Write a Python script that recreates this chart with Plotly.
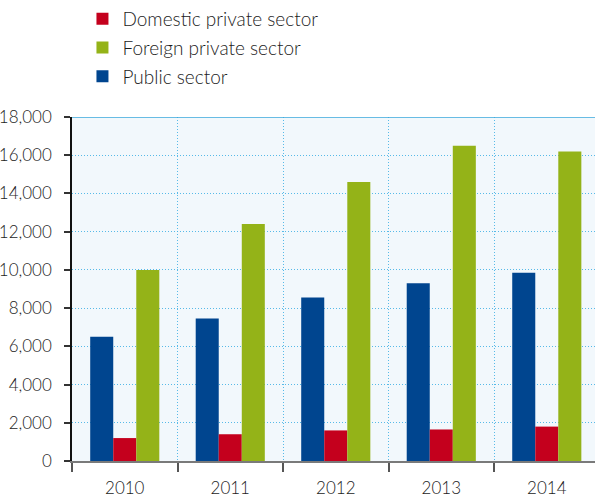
import plotly.graph_objects as go

years = ["2010", "2011", "2012", "2013", "2014"]
public_sector = [6500, 7450, 8550, 9300, 9850]
domestic_private = [1200, 1400, 1600, 1650, 1800]
foreign_private = [10000, 12400, 14600, 16500, 16200]

y_ticks = [0, 2000, 4000, 6000, 8000, 10000, 12000, 14000, 16000, 18000]
y_tick_text = ["0", "2,000", "4,000", "6,000", "8,000", "10,000",
               "12,000", "14,000", "16,000", "18,000"]

BLUE = "#00458f"
RED = "#c4001d"
GREEN = "#94b318"
FONT = "Lato"
TEXT = "#1c1c1c"
GRID = "rgba(60,175,228,0.85)"

fig = go.Figure()
fig.add_trace(go.Bar(x=years, y=public_sector, name="Public sector",
                     marker=dict(color=BLUE, line=dict(width=0)),
                     legendrank=3, legendgroup="c"))
fig.add_trace(go.Bar(x=years, y=domestic_private, name="Domestic private sector",
                     marker=dict(color=RED, line=dict(width=0)),
                     legendrank=1, legendgroup="a"))
fig.add_trace(go.Bar(x=years, y=foreign_private, name="Foreign private sector",
                     marker=dict(color=GREEN, line=dict(width=0)),
                     legendrank=2, legendgroup="b"))

# solid line along the top of the plotting area
fig.add_shape(type="line", xref="paper", yref="y", x0=0, x1=1,
              y0=18000, y1=18000, line=dict(color="#3aa8dc", width=1.5))

fig.update_layout(
    width=595, height=502,
    margin=dict(l=72, r=0, t=117, b=41),
    paper_bgcolor="white",
    plot_bgcolor="#f2f8fc",
    barmode="group",
    bargap=0.345,
    bargroupgap=0,
    font=dict(family=FONT, color=TEXT, weight=300),
    showlegend=True,
    legend=dict(
        x=0.02, y=1.0, xref="paper", yref="container",
        xanchor="left", yanchor="top",
        font=dict(size=19, color=TEXT, family=FONT, weight=300),
        bgcolor="rgba(0,0,0,0)",
        tracegroupgap=1,
        traceorder="grouped",
        itemclick=False,
    ),
    xaxis=dict(
        type="category",
        range=[-0.5, 4.457],
        tickson="boundaries",
        ticks="outside", ticklen=9, tickwidth=1.5, tickcolor="#555555",
        showgrid=True, griddash="1px,2px", gridcolor=GRID, gridwidth=1.2,
        showline=True, linecolor="#7a7a7a", linewidth=2,
        tickfont=dict(size=17, color=TEXT, weight=300),
        ticklabelstandoff=11,
        fixedrange=True,
    ),
    yaxis=dict(
        range=[0, 18000],
        tickvals=y_ticks, ticktext=y_tick_text,
        ticks="outside", ticklen=6, tickwidth=1.5, tickcolor="#333333",
        showgrid=True, griddash="1px,2px", gridcolor=GRID, gridwidth=1,
        showline=True, linecolor="#111111", linewidth=1.5,
        zeroline=False,
        tickfont=dict(size=17, color=TEXT, weight=300),
        ticklabelstandoff=9,
        fixedrange=True,
    ),
)

fig.write_html("out.html")
